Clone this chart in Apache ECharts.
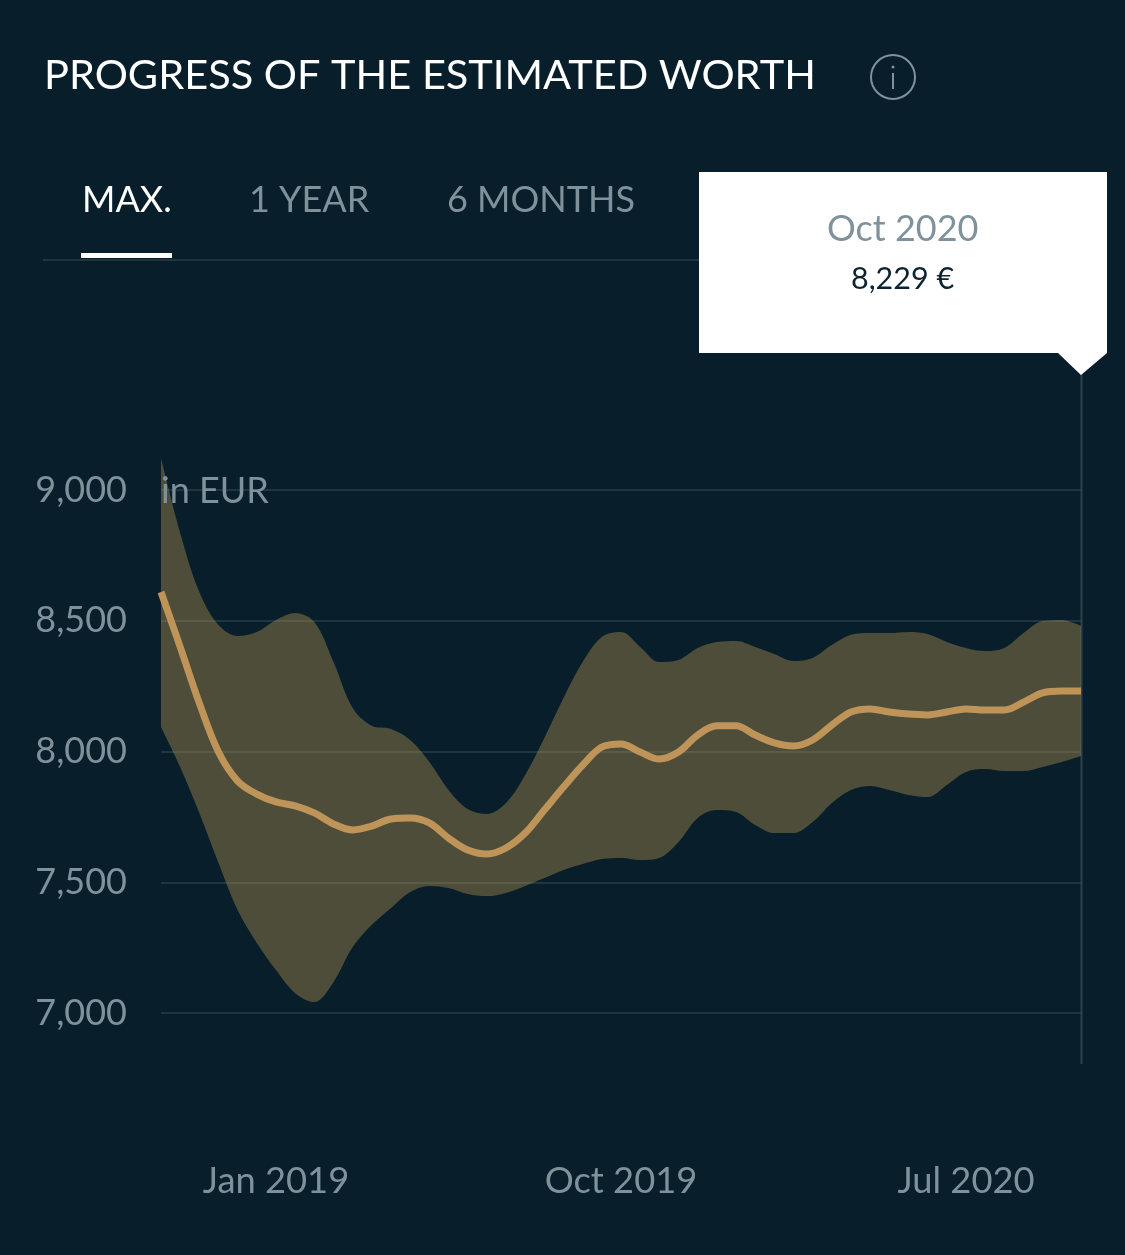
<!DOCTYPE html>
<html>
<head>
<meta charset="utf-8">
<style>
  html, body { margin: 0; padding: 0; background: #081f2b; }
  #chart { width: 1125px; height: 1255px; }
</style>
<script src="https://cdn.jsdelivr.net/npm/echarts@6/dist/echarts.min.js"></script>
</head>
<body>
<div id="chart"></div>
<script>
// one reading every half month, Oct 2018 to Oct 2020
const months = ['Oct 2018', 'Nov 2018', 'Dec 2018', 'Jan 2019', 'Feb 2019', 'Mar 2019', 'Apr 2019', 'May 2019', 'Jun 2019',
  'Jul 2019', 'Aug 2019', 'Sep 2019', 'Oct 2019', 'Nov 2019', 'Dec 2019', 'Jan 2020', 'Feb 2020', 'Mar 2020', 'Apr 2020',
  'May 2020', 'Jun 2020', 'Jul 2020', 'Aug 2020', 'Sep 2020', 'Oct 2020']
const labelledMonths = ['Jan 2019', 'Oct 2019', 'Jul 2020']
const yTicks = [7000, 7500, 8000, 8500, 9000]

const worth = [8610, 8400, 8185, 7998, 7887, 7837, 7807, 7792, 7765, 7723, 7700, 7715, 7742, 7746, 7727, 7669, 7623,
  7608, 7631, 7688, 7776, 7864, 7948, 8017, 8029, 7998, 7971, 7998, 8063, 8098, 8098, 8063,
  8033, 8021, 8044, 8101, 8151, 8163, 8151, 8143, 8140, 8151, 8163, 8159, 8159, 8189, 8224, 8231, 8231]
const upper = [9122, 8836, 8610, 8484, 8442, 8457, 8503, 8530, 8495, 8342, 8166, 8098, 8086, 8044, 7960, 7853, 7780,
  7761, 7803, 7910, 8052, 8205, 8342, 8438, 8457, 8400, 8342, 8350, 8396, 8419, 8423, 8400,
  8373, 8346, 8358, 8407, 8446, 8453, 8453, 8457, 8449, 8419, 8396, 8384, 8396, 8453, 8499, 8503, 8480]
const lower = [8094, 7941, 7765, 7574, 7394, 7268, 7164, 7076, 7042, 7119, 7252, 7337, 7402, 7463, 7486, 7478, 7455,
  7447, 7459, 7486, 7516, 7547, 7570, 7589, 7593, 7585, 7593, 7654, 7746, 7776, 7769, 7719,
  7688, 7688, 7730, 7803, 7853, 7868, 7853, 7834, 7826, 7872, 7922, 7933, 7925, 7925, 7941, 7960, 7983]

const periods = months.flatMap((m, i) => i < months.length - 1 ? [m, 'mid ' + m] : [m])

const FONT = 'Lato'
const GREY = '#7f929c'
const LINE = '#1f3641'
const SMOOTH = 0.35

const myChart = echarts.init(document.getElementById('chart'))

const option = {
  backgroundColor: '#081f2b',
  animation: false,
  textStyle: { fontFamily: FONT },
  grid: { left: 161, right: 44, top: 490, bottom: 242 },
  xAxis: {
    type: 'category',
    boundaryGap: false,
    data: periods,
    axisLine: { show: false },
    axisTick: { show: false },
    axisLabel: {
      color: GREY,
      fontSize: 36.3,
      fontFamily: FONT,
      margin: 150,
      interval: (i, name) => labelledMonths.includes(name),
      hideOverlap: false
    },
    splitLine: { show: false }
  },
  yAxis: {
    type: 'value',
    min: yTicks[0],
    max: yTicks[yTicks.length - 1],
    interval: 500,
    axisLine: { show: false },
    axisTick: { show: false },
    axisLabel: {
      color: GREY,
      fontSize: 36,
      fontFamily: FONT,
      margin: 34,
      padding: [6, 0, 0, 0],
      formatter: v => v.toLocaleString('en-US')
    },
    splitLine: { lineStyle: { color: LINE, width: 2 } }
  },
  series: [
    {
      name: 'lower',
      type: 'line',
      stack: 'band',
      smooth: SMOOTH,
      clip: false,
      symbol: 'none',
      lineStyle: { opacity: 0 },
      data: lower
    },
    {
      name: 'band',
      type: 'line',
      stack: 'band',
      smooth: SMOOTH,
      clip: false,
      symbol: 'none',
      lineStyle: { opacity: 0 },
      areaStyle: { color: 'rgba(196,158,85,0.37)', opacity: 1 },
      data: upper.map((v, i) => v - lower[i])
    },
    {
      name: 'worth',
      type: 'line',
      smooth: SMOOTH,
      clip: false,
      symbol: 'none',
      lineStyle: { color: '#bf9459', width: 7, cap: 'butt' },
      z: 5,
      data: worth
    }
  ],
  graphic: [
    { type: 'text', left: 44, top: 55, style: { text: 'PROGRESS OF THE ESTIMATED WORTH', fill: '#fff', font: '400 41.5px Lato' } },
    { type: 'circle', shape: { cx: 893, cy: 77, r: 22 }, style: { fill: 'none', stroke: GREY, lineWidth: 2 } },
    { type: 'line', shape: { x1: 893, y1: 73, x2: 893, y2: 89 }, style: { stroke: GREY, lineWidth: 2 } },
    { type: 'circle', shape: { cx: 893, cy: 67, r: 1.5 }, style: { fill: GREY } },

    { type: 'text', left: 82, top: 182, style: { text: 'MAX.', fill: '#fff', font: '36px Lato' } },
    { type: 'text', left: 249, top: 182, style: { text: '1 YEAR', fill: GREY, font: '36px Lato' } },
    { type: 'text', left: 447, top: 182, style: { text: '6 MONTHS', fill: GREY, font: '36px Lato' } },
    { type: 'line', shape: { x1: 43, y1: 260, x2: 699, y2: 260 }, style: { stroke: LINE, lineWidth: 2 } },
    { type: 'rect', shape: { x: 81, y: 253, width: 91, height: 5 }, style: { fill: '#fff' } },

    { type: 'text', left: 161, top: 473, z: 10, style: { text: 'in EUR', fill: GREY, font: '36px Lato' } },

    { type: 'line', shape: { x1: 1081.5, y1: 372, x2: 1081.5, y2: 1064 }, z: 3, style: { stroke: '#2b424d', lineWidth: 2 } },
    {
      type: 'polygon',
      z: 20,
      shape: { points: [[699, 172], [1107, 172], [1107, 353], [1081, 375], [1058, 353], [699, 353]] },
      style: { fill: '#fff' }
    },
    { type: 'text', z: 21, left: 827, top: 211, style: { text: 'Oct 2020', fill: GREY, font: '36px Lato' } },
    { type: 'text', z: 21, left: 851, top: 264, style: { text: '8,229 €', fill: '#0d2430', font: '30.5px Lato' } }
  ]
}

myChart.setOption(option)
</script>
</body>
</html>
